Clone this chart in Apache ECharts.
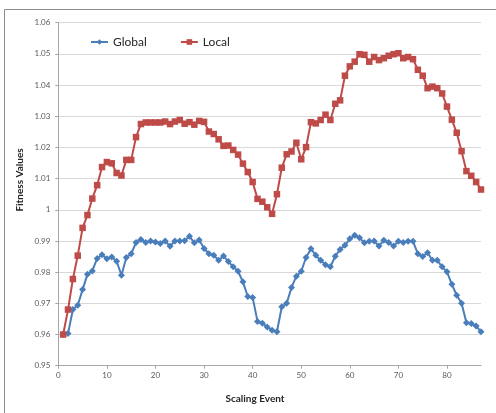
<!DOCTYPE html>
<html>
<head>
<meta charset="utf-8">
<script src="https://cdn.jsdelivr.net/npm/echarts@6/dist/echarts.min.js"></script>
<style>
html,body{margin:0;padding:0;background:#fff;}
#chart{width:496px;height:413px;}
</style>
</head>
<body>
<div id="chart"></div>
<script>
var events = [1,2,3,4,5,6,7,8,9,10,11,12,13,14,15,16,17,18,19,20,21,22,23,24,25,26,27,28,29,30,
  31,32,33,34,35,36,37,38,39,40,41,42,43,44,45,46,47,48,49,50,51,52,53,54,55,56,57,58,59,60,
  61,62,63,64,65,66,67,68,69,70,71,72,73,74,75,76,77,78,79,80,81,82,83,84,85,86,87];

var globalValues = [0.960,0.9603,0.968,0.9694,0.9744,0.9793,0.9804,0.9844,0.9856,0.9843,
  0.9849,0.9835,0.979,0.9847,0.9859,0.9895,0.9905,0.9895,0.99,0.9897,
  0.9892,0.99,0.9883,0.99,0.99,0.9901,0.9915,0.9894,0.9903,0.9876,
  0.9859,0.9854,0.9838,0.9852,0.9834,0.9817,0.9803,0.9769,0.9722,0.9719,
  0.9642,0.9636,0.9624,0.9614,0.9609,0.9689,0.97,0.9751,0.9787,0.9803,
  0.9847,0.9875,0.9854,0.9838,0.9824,0.9817,0.9851,0.9873,0.9886,0.9907,
  0.9918,0.991,0.9894,0.9899,0.99,0.9884,0.9902,0.9895,0.9884,0.9899,
  0.9895,0.9899,0.9899,0.9859,0.985,0.9862,0.9838,0.9838,0.9817,0.9801,
  0.9761,0.9726,0.97,0.9638,0.9635,0.9627,0.9609];

var localValues = [0.960,0.968,0.9778,0.9853,0.9942,0.9983,1.0036,1.0079,1.0137,1.0153,
  1.0149,1.0118,1.011,1.016,1.016,1.0233,1.0275,1.028,1.028,1.028,
  1.028,1.0283,1.0275,1.0283,1.0288,1.0276,1.0281,1.0273,1.0285,1.0282,
  1.0251,1.0243,1.0226,1.0205,1.0206,1.0192,1.0177,1.0148,1.0121,1.0089,
  1.0035,1.0026,1.0008,0.9987,1.005,1.0135,1.0178,1.0187,1.0215,1.0162,
  1.0201,1.0281,1.0277,1.0288,1.0305,1.0288,1.034,1.0351,1.043,1.046,
  1.0475,1.0499,1.0497,1.0475,1.049,1.048,1.0486,1.0494,1.0499,1.0502,
  1.0486,1.049,1.0483,1.0449,1.043,1.039,1.0395,1.039,1.0373,1.0331,
  1.0289,1.0247,1.0188,1.0124,1.0109,1.0089,1.0065];

var xTicks = [0,10,20,30,40,50,60,70,80];
var yTicks = [0.95,0.96,0.97,0.98,0.99,1.00,1.01,1.02,1.03,1.04,1.05,1.06];

var seriesNames = ['Global','Local'];
var xTitle = 'Scaling Event';
var yTitle = 'Fitness Values';

function pairs(xs, ys){ return xs.map(function(x,i){ return [x, ys[i]]; }); }

var FONT = 'Lato, "Liberation Sans", sans-serif';
var chart = echarts.init(document.getElementById('chart'), null, {renderer:'canvas'});
chart.setOption({
  animation: false,
  backgroundColor: '#ffffff',
  grid: { left: 58.3, right: 15, top: 22.7, bottom: 47.3, containLabel: false },
  legend: {
    data: seriesNames,
    left: 90, top: 36, padding: 0,
    itemWidth: 17, itemHeight: 7, itemGap: 33,
    textStyle: { fontFamily: FONT, fontSize: 12, color: '#262626' }
  },
  xAxis: {
    type: 'value', min: 0, max: 87, interval: 10,
    axisLine: { show: true, lineStyle: { color: '#a6a6a6', width: 1 } },
    axisTick: { show: true, length: 3, inside: false, customValues: xTicks, lineStyle: { color: '#a6a6a6' } },
    axisLabel: { customValues: xTicks, margin: 6, fontFamily: FONT, fontSize: 8, color: '#595959' },
    splitLine: { show: false }
  },
  yAxis: {
    type: 'value', min: 0.95, max: 1.06, interval: 0.01,
    axisLine: { show: true, lineStyle: { color: '#a6a6a6', width: 1 } },
    axisTick: { show: true, length: 3, customValues: yTicks, lineStyle: { color: '#a6a6a6' } },
    axisLabel: {
      customValues: yTicks, margin: 8, fontFamily: FONT, fontSize: 8, color: '#595959',
      formatter: function(v){ return String(Math.round(v*100)/100); }
    },
    splitLine: { show: true, lineStyle: { color: '#d9d9d9', width: 1 } }
  },
  series: [
    {
      name: seriesNames[0], type: 'line', data: pairs(events, globalValues),
      symbol: 'diamond', symbolSize: 7, showSymbol: true,
      itemStyle: { color: '#4a7ebb' },
      lineStyle: { color: '#4a7ebb', width: 2 }
    },
    {
      name: seriesNames[1], type: 'line', data: pairs(events, localValues),
      symbol: 'rect', symbolSize: 6.5, showSymbol: true,
      itemStyle: { color: '#be4b48' },
      lineStyle: { color: '#be4b48', width: 2 }
    }
  ],
  graphic: [
    { type: 'rect', silent: true, shape: { x: 4.5, y: 9.5, width: 600, height: 500 },
      style: { fill: 'none', stroke: '#8c8c8c', lineWidth: 1 } },
    { type: 'text', x: 20, y: 180, rotation: Math.PI/2,
      style: { text: yTitle, font: 'bold 10px ' + FONT, fill: '#262626', textAlign: 'center', textVerticalAlign: 'middle' } },
    { type: 'text', x: 255, y: 399,
      style: { text: xTitle, font: 'bold 10px ' + FONT, fill: '#262626', textAlign: 'center', textVerticalAlign: 'middle' } }
  ]
});
</script>
</body>
</html>
